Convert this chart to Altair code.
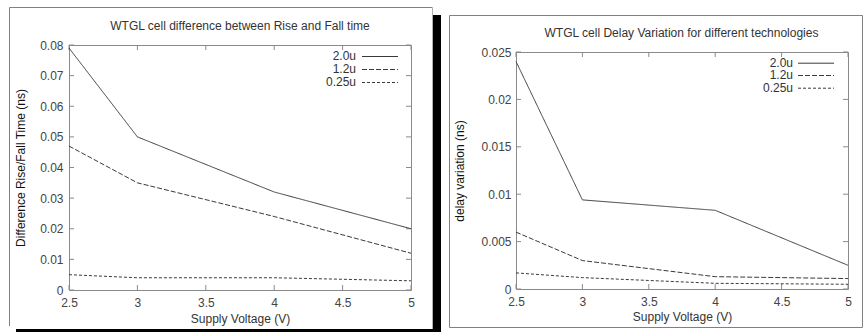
import altair as alt
import pandas as pd

FONT = "Liberation Sans"
FS = 12

# ---- data ----
volts = [2.5, 3, 4, 5]
series = ["2.0u", "1.2u", "0.25u"]

rf_20 = [0.079, 0.050, 0.032, 0.020]
rf_12 = [0.047, 0.035, 0.024, 0.012]
rf_025 = [0.005, 0.004, 0.004, 0.003]

dv_20 = [0.024, 0.0094, 0.0083, 0.0025]
dv_12 = [0.0060, 0.0030, 0.0013, 0.0011]
dv_025 = [0.0017, 0.0012, 0.0006, 0.0005]

x_ticks = [2.5, 3, 3.5, 4, 4.5, 5]
rf_ticks = [0, 0.01, 0.02, 0.03, 0.04, 0.05, 0.06, 0.07, 0.08]
dv_ticks = [0, 0.005, 0.01, 0.015, 0.02, 0.025]

rf_title = "WTGL cell difference between Rise and Fall time"
dv_title = "WTGL cell Delay Variation for different technologies"
rf_ytitle = "Difference Rise/Fall Time (ns)"
dv_ytitle = "delay variation (ns)"
x_title = "Supply Voltage (V)"

dashes = [[1, 0], [5, 2], [3, 2]]
LINE = "#3a3a3a"
FRAME = "#8a8a8a"


def long_df(lists):
    rows = []
    for s, vals in zip(series, lists):
        for v, y in zip(volts, vals):
            rows.append({"v": v, "val": y, "series": s})
    return pd.DataFrame(rows)


def one():
    return alt.Chart(pd.DataFrame({"a": [0]}))


def panel(lists, yticks, ymax, ytitle, title, W, H, yrange, ylabpad, ytitlepad,
          title_pos, legend_x, legend_ys, line_x, xlabpad, xtitlepad):
    xscale = alt.Scale(domain=[2.5, 5], nice=False, zero=False)
    yscale = alt.Scale(domain=[0, ymax], nice=False, zero=False, range=yrange)
    xaxis = alt.Axis(title=x_title, values=x_ticks, format="~g", ticks=False, domain=False,
                     grid=False, labelFont=FONT, labelFontSize=FS, labelColor="#444444",
                     labelPadding=xlabpad, labelFlush=False, labelOverlap=False,
                     titleFont=FONT, titleFontSize=FS, titleFontWeight="normal",
                     titleColor="#333333", titlePadding=xtitlepad)
    yaxis = alt.Axis(title=ytitle, values=yticks, format="~g", ticks=False, domain=False,
                     grid=False, labelFont=FONT, labelFontSize=FS, labelColor="#444444",
                     labelPadding=ylabpad, labelFlush=False, labelOverlap=False,
                     titleFont=FONT, titleFontSize=FS, titleFontWeight="normal",
                     titleColor="#111111", titlePadding=ytitlepad)

    df = long_df(lists)
    lines = alt.Chart(df).mark_line(strokeWidth=1, color=LINE).encode(
        x=alt.X("v:Q", scale=xscale, axis=xaxis),
        y=alt.Y("val:Q", scale=yscale, axis=yaxis),
        strokeDash=alt.StrokeDash("series:N", scale=alt.Scale(domain=series, range=dashes),
                                  legend=None),
        detail="series:N",
    )

    top = yrange[1]
    bot = yrange[0]
    frame = one().mark_rect(fillOpacity=0, stroke=FRAME, strokeWidth=1).encode(
        x=alt.value(0.5), x2=alt.value(W + 0.5), y=alt.value(top + 0.5), y2=alt.value(bot + 0.5))

    xt = pd.DataFrame({"v": x_ticks})
    yt = pd.DataFrame({"val": yticks})
    xb = alt.Chart(xt).mark_rule(color=FRAME).encode(
        x=alt.X("v:Q", scale=xscale, axis=xaxis), y=alt.value(bot), y2=alt.value(bot - 5))
    xtp = alt.Chart(xt).mark_rule(color=FRAME).encode(
        x=alt.X("v:Q", scale=xscale, axis=xaxis), y=alt.value(top), y2=alt.value(top + 5))
    yl = alt.Chart(yt).mark_rule(color=FRAME).encode(
        y=alt.Y("val:Q", scale=yscale, axis=yaxis), x=alt.value(0), x2=alt.value(5))
    yr = alt.Chart(yt).mark_rule(color=FRAME).encode(
        y=alt.Y("val:Q", scale=yscale, axis=yaxis), x=alt.value(W), x2=alt.value(W - 5))

    ttl = one().mark_text(font=FONT, fontSize=FS, color="#333333", align="center",
                          baseline="middle").encode(
        x=alt.value(title_pos[0]), y=alt.value(title_pos[1]), text=alt.value(title))

    layers = [frame, xb, xtp, yl, yr, lines, ttl]
    for s, d, ly in zip(series, dashes, legend_ys):
        layers.append(one().mark_text(font=FONT, fontSize=FS, color="#333333", align="right",
                                      baseline="middle").encode(
            x=alt.value(legend_x), y=alt.value(ly), text=alt.value(s)))
        layers.append(one().mark_rule(color=LINE, strokeWidth=1, strokeDash=d).encode(
            x=alt.value(line_x[0]), x2=alt.value(line_x[1]), y=alt.value(ly + 0.5)))
    return layers


WL, HL = 342, 245
left_layers = panel([rf_20, rf_12, rf_025], rf_ticks, 0.08, rf_ytitle, rf_title, WL, HL,
                    [245, 0], 6, 12, (171, -19), 287, [11, 24, 37], (293, 329), 7, 5)
# outer frame and drop shadow of the left figure
left_layers += [
    one().mark_rule(color="#808080").encode(x=alt.value(-59.5), y=alt.value(-37.5), y2=alt.value(281)),
    one().mark_rule(color="#808080").encode(x=alt.value(-59.5), x2=alt.value(363.5), y=alt.value(-37.5)),
    one().mark_rule(color="#b0b0b0").encode(x=alt.value(363.5), y=alt.value(-37.5), y2=alt.value(284)),
    one().mark_rect(color="black").encode(x=alt.value(364), x2=alt.value(372), y=alt.value(-30), y2=alt.value(287)),
    one().mark_rect(color="black").encode(x=alt.value(-53), x2=alt.value(372), y=alt.value(284), y2=alt.value(287)),
]
left = alt.layer(*left_layers).properties(width=WL, height=HL)

WR = 332
right_layers = panel([dv_20, dv_12, dv_025], dv_ticks, 0.025, dv_ytitle, dv_title, WR, HL,
                     [244, 7], 5, 14, (165.5, -11.7), 277, [17.7, 30, 42.7], (282, 318), 6, 4)
right_layers += [
    one().mark_rect(fillOpacity=0, stroke="#808080", strokeWidth=1).encode(
        x=alt.value(-66.5), x2=alt.value(346.5), y=alt.value(-29.5), y2=alt.value(282.5)),
]
right = alt.layer(*right_layers).properties(width=WR, height=HL)

chart = alt.hconcat(left, right, spacing=105, bounds="flush").properties(
    padding={"left": 9, "top": 7, "right": 4, "bottom": 0},
    background="white",
).configure_view(stroke=None)

chart.save("out.html", embed_options={"renderer": "svg", "actions": False})
